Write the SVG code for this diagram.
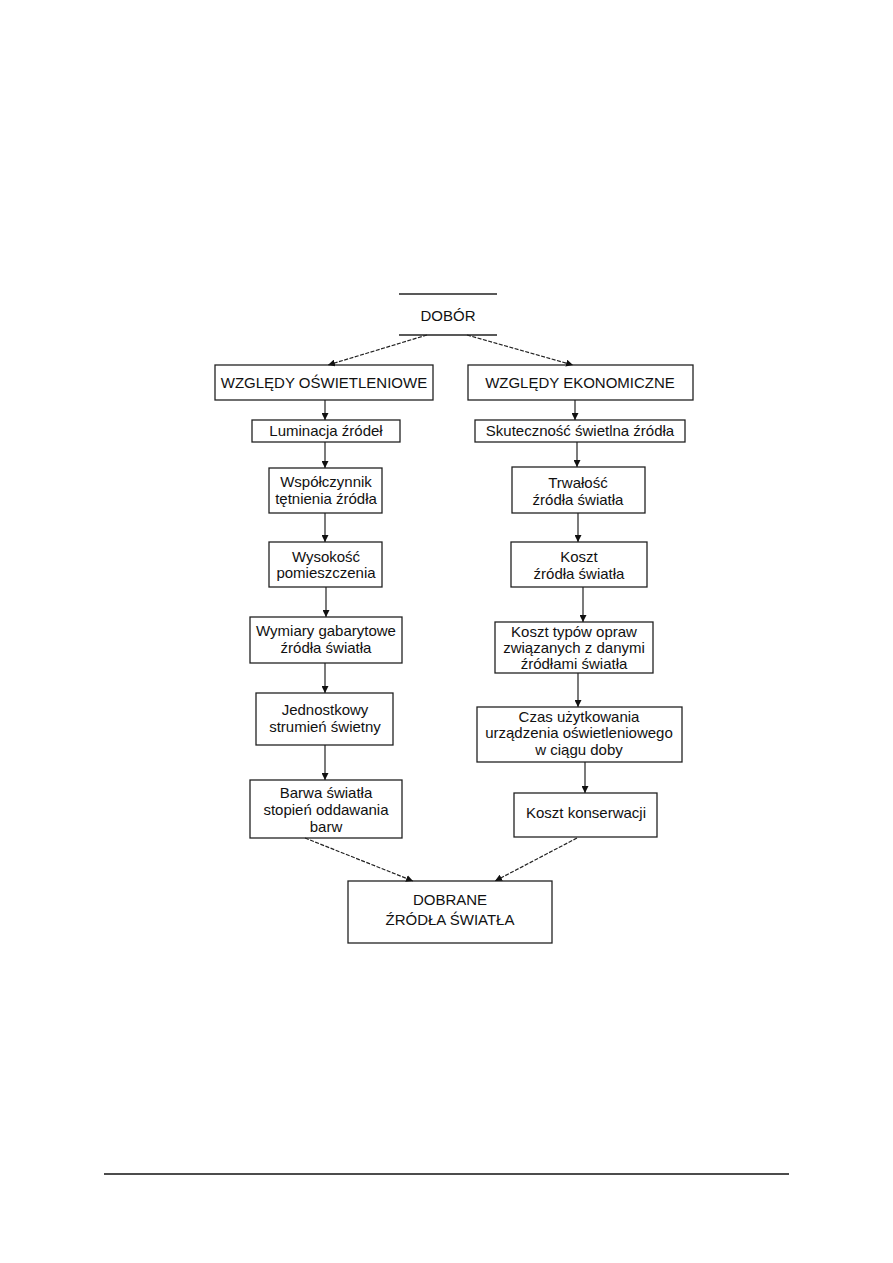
<svg xmlns="http://www.w3.org/2000/svg" width="893" height="1263" viewBox="0 0 893 1263">
<style>
text{font-family:"Liberation Sans",Arial,sans-serif;font-size:15px;fill:#111;text-anchor:middle}
.box{fill:none;stroke:#222;stroke-width:1.3}
.c line{stroke:#222;stroke-width:1.2}
.d{stroke-dasharray:4 1.5}
</style>
<defs>
<marker id="ah" viewBox="0 0 10 10" refX="10" refY="5" markerWidth="7" markerHeight="7" markerUnits="userSpaceOnUse" orient="auto">
<path d="M0,0 L10,5 L0,10 Z" fill="#111"/>
</marker>
</defs>
<rect width="893" height="1263" fill="#fff"/>
<g id="dobor">
<line x1="399" y1="294" x2="497" y2="294" stroke="#222" stroke-width="1.3"/>
<line x1="399" y1="335" x2="497" y2="335" stroke="#222" stroke-width="1.3"/>
<text x="448" y="321">DOBÓR</text>
</g>
<g id="wzgledy-osw">
<rect class="box" x="215" y="365" width="218" height="35"/>
<text x="324" y="388">WZGLĘDY OŚWIETLENIOWE</text>
</g>
<g id="wzgledy-ekon">
<rect class="box" x="468" y="365" width="225" height="35"/>
<text x="580" y="388">WZGLĘDY EKONOMICZNE</text>
</g>
<g id="luminacja">
<rect class="box" x="252" y="420" width="148" height="22"/>
<text x="326" y="436">Luminacja źródeł</text>
</g>
<g id="wspolczynnik">
<rect class="box" x="269" y="468" width="113" height="45"/>
<text x="326" y="487">Współczynnik</text>
<text x="326" y="504">tętnienia źródła</text>
</g>
<g id="wysokosc">
<rect class="box" x="269" y="542" width="113" height="45"/>
<text x="326" y="562">Wysokość</text>
<text x="326" y="578">pomieszczenia</text>
</g>
<g id="wymiary">
<rect class="box" x="250" y="617" width="152" height="46"/>
<text x="326" y="636">Wymiary gabarytowe</text>
<text x="326" y="653">źródła światła</text>
</g>
<g id="jednostkowy">
<rect class="box" x="256" y="693" width="137" height="52"/>
<text x="325" y="715">Jednostkowy</text>
<text x="325" y="732">strumień świetny</text>
</g>
<g id="barwa">
<rect class="box" x="250" y="780" width="152" height="58"/>
<text x="326" y="798">Barwa światła</text>
<text x="326" y="815">stopień oddawania</text>
<text x="326" y="832">barw</text>
</g>
<g id="skutecznosc">
<rect class="box" x="475" y="420" width="210" height="22"/>
<text x="580" y="436">Skuteczność świetlna źródła</text>
</g>
<g id="trwalosc">
<rect class="box" x="512" y="467" width="133" height="46"/>
<text x="578" y="488">Trwałość</text>
<text x="578" y="505">źródła światła</text>
</g>
<g id="koszt-zrodla">
<rect class="box" x="511" y="542" width="136" height="45"/>
<text x="579" y="562">Koszt</text>
<text x="579" y="579">źródła światła</text>
</g>
<g id="koszt-opraw">
<rect class="box" x="495" y="622" width="158" height="51"/>
<text x="574" y="637">Koszt typów opraw</text>
<text x="574" y="653">związanych z danymi</text>
<text x="574" y="669">źródłami światła</text>
</g>
<g id="czas">
<rect class="box" x="477" y="707" width="205" height="55"/>
<text x="579" y="722">Czas użytkowania</text>
<text x="579" y="738">urządzenia oświetleniowego</text>
<text x="579" y="755">w ciągu doby</text>
</g>
<g id="konserwacja">
<rect class="box" x="514" y="793" width="143" height="44"/>
<text x="586" y="818">Koszt konserwacji</text>
</g>
<g id="dobrane">
<rect class="box" x="348" y="881" width="204" height="62"/>
<text x="450" y="905">DOBRANE</text>
<text x="450" y="925">ŹRÓDŁA ŚWIATŁA</text>
</g>
<g id="connectors" class="c">
<line class="d" x1="427" y1="335" x2="328" y2="365" marker-end="url(#ah)"/>
<line class="d" x1="467" y1="335" x2="573" y2="365" marker-end="url(#ah)"/>
<line x1="325" y1="400" x2="325" y2="420" marker-end="url(#ah)"/>
<line x1="325" y1="442" x2="325" y2="468" marker-end="url(#ah)"/>
<line x1="325" y1="513" x2="325" y2="542" marker-end="url(#ah)"/>
<line x1="326" y1="587" x2="326" y2="617" marker-end="url(#ah)"/>
<line x1="325" y1="663" x2="325" y2="693" marker-end="url(#ah)"/>
<line x1="325" y1="745" x2="325" y2="780" marker-end="url(#ah)"/>
<line x1="575" y1="400" x2="575" y2="420" marker-end="url(#ah)"/>
<line x1="577" y1="442" x2="577" y2="467" marker-end="url(#ah)"/>
<line x1="578" y1="513" x2="578" y2="542" marker-end="url(#ah)"/>
<line x1="583" y1="587" x2="583" y2="622" marker-end="url(#ah)"/>
<line x1="578" y1="673" x2="578" y2="707" marker-end="url(#ah)"/>
<line x1="585" y1="762" x2="585" y2="793" marker-end="url(#ah)"/>
<line class="d" x1="305" y1="838" x2="413" y2="881" marker-end="url(#ah)"/>
<line class="d" x1="577" y1="838" x2="495" y2="881" marker-end="url(#ah)"/>
</g>
<line x1="104" y1="1174" x2="789" y2="1174" stroke="#111" stroke-width="1.3"/>
</svg>
